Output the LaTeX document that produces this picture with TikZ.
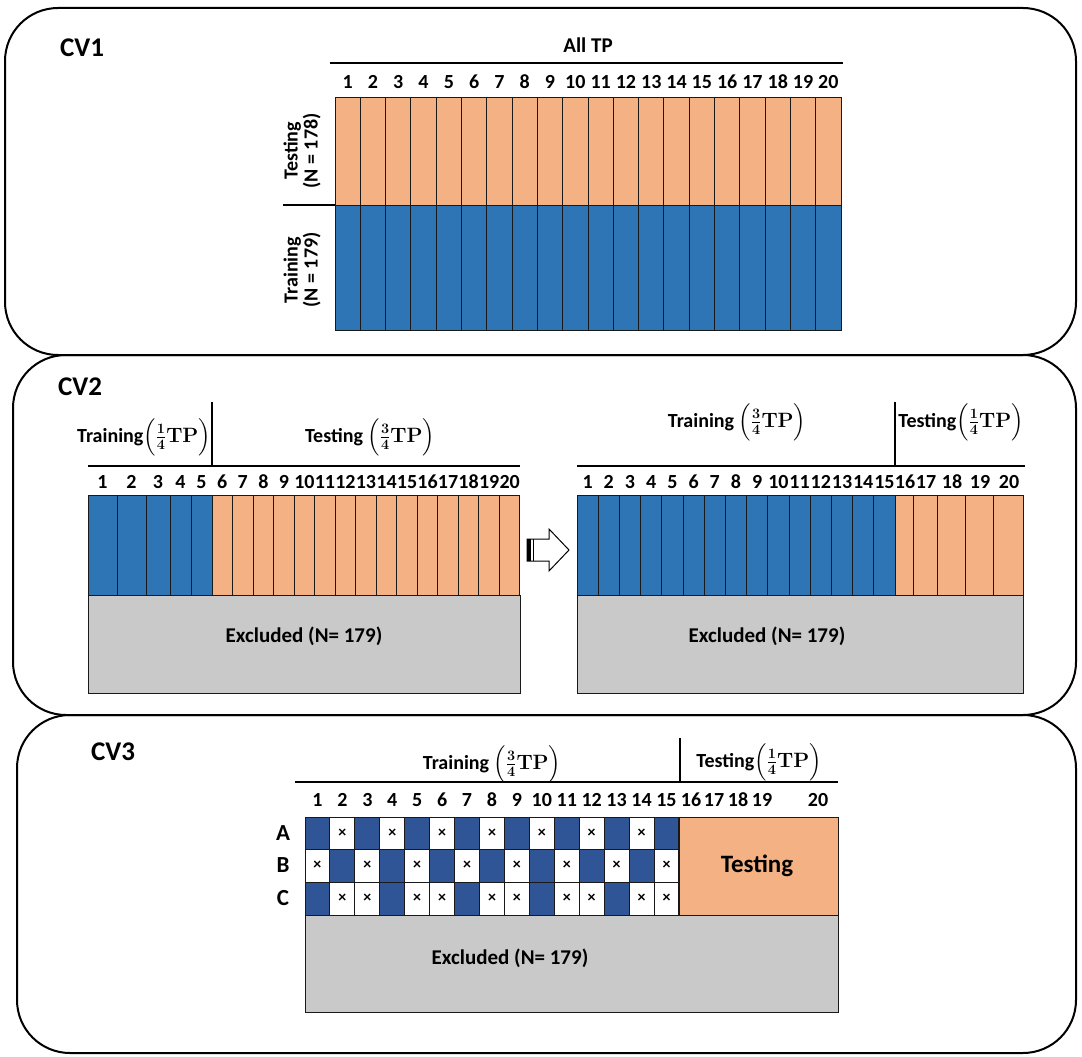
\documentclass[tikz,border=0pt]{standalone}
\usepackage{fontspec}
\setmainfont{Carlito}
\usepackage{amsmath}
\definecolor{sal}{HTML}{F4B183}
\definecolor{blA}{HTML}{2E75B6}
\definecolor{blB}{HTML}{2F5597}
\definecolor{gry}{HTML}{C9C9C9}
\newcommand{\fracTP}[2]{{\boldmath$\Bigl(\tfrac{#1}{#2}\mathbf{TP}\Bigr)$}}
\begin{document}
\begin{tikzpicture}[x=1pt,y=-1pt]
\tikzset{
  panel/.style={draw=black, line width=2pt, rounded corners=53pt},
  cellbox/.style={draw=black!90, line width=1pt},
  txt/.style={inner sep=0pt, font=\bfseries\fontsize{21}{21}\selectfont},
  hdr/.style={inner sep=0pt, font=\bfseries\fontsize{20}{20}\selectfont},
  num/.style={inner sep=0pt, font=\bfseries\fontsize{20}{20}\selectfont},
  title/.style={inner sep=0pt, font=\bfseries\fontsize{27}{27}\selectfont},
  xmark/.style={inner sep=0pt, font=\bfseries\fontsize{16}{16}\selectfont},
  rule/.style={draw=black, line width=1.3pt},
  vlab/.style={inner sep=0pt, rotate=90, align=center, font=\bfseries\fontsize{20}{20}\selectfont},
}
\useasboundingbox (0,0) rectangle (1082,1057);
% panels
\draw[panel] (5,8) rectangle (1076,355);
\draw[panel] (13,355) rectangle (1076,715);
\draw[panel] (17,715) rectangle (1076,1053);

% ---------------- CV1
\node[title] (cv1) at (82,48) {CV1};
\node[txt] (alltp) at (588,45) {All TP};
\coordinate (a1l) at (330,63); \coordinate (a1r) at (843,63);
\draw[rule] (a1l) -- (a1r);
\foreach \i in {1,...,20}{
  \pgfmathsetmacro{\xa}{335+(\i-1)*25.3}
  \pgfmathsetmacro{\xb}{\xa+25.3}
  \pgfmathsetmacro{\xc}{\xa+12.65}
  \draw[cellbox, fill=sal] (\xa,97) rectangle (\xb,205);
  \draw[cellbox, fill=blA] (\xa,205) rectangle (\xb,330);
  \node[num] (cvA-\i) at (\xc,82) {\i};
}
\coordinate (s1) at (283,205); \coordinate (s2) at (335,205);
\draw[rule] (s1) -- (s2);
\node[vlab] (ltest) at (302,151) {Testing\\(N = 178)};
\node[vlab] (ltrain) at (302,270) {Training\\(N = 179)};

% ---------------- CV2
\node[title] (cv2) at (80,387) {CV2};
% left block
\node[hdr] (l2a) at (144,437) {Training\fracTP{1}{4}};
\node[hdr] (l2b) at (370,437) {Testing \fracTP{3}{4}};
\coordinate (v1t) at (212,402); \coordinate (v1b) at (212,466);
\draw[rule] (v1t) -- (v1b);
\coordinate (h1l) at (88,466); \coordinate (h1r) at (520,466);
\draw[rule] (h1l) -- (h1r);
\foreach \a/\b/\n in {88/117/1,117/146/2,146/170/3,170/191/4,191/212/5}{
  \draw[cellbox, fill=blA] (\a,495) rectangle (\b,595);
  \node[num] (cvBl-\n) at ({(\a+\b)/2},482) {\n};
}
\foreach \i in {6,...,20}{
  \pgfmathsetmacro{\xa}{212+(\i-6)*20.53}
  \pgfmathsetmacro{\xb}{\xa+20.53}
  \pgfmathsetmacro{\xc}{\xa+10.27}
  \draw[cellbox, fill=sal] (\xa,495) rectangle (\xb,595);
  \node[num] (cvBl-\i) at (\xc,482) {\i};
}
\draw[cellbox, fill=gry] (88,595) rectangle (520,693);
\node[txt] (exl) at (304,636) {Excluded (N= 179)};
% arrow
\draw[line width=1pt, fill=white] (527,539) -- (549,539) -- (549,529) -- (569,550) -- (549,571) -- (549,561) -- (527,561) -- cycle;
\fill[black] (527,539) rectangle (531,561);
\draw[line width=1pt] (533.5,539) -- (533.5,561);
% right block
\node[hdr] (r2a) at (737,422) {Training \fracTP{3}{4}};
\node[hdr] (r2b) at (961,422) {Testing\fracTP{1}{4}};
\coordinate (v2t) at (895,402); \coordinate (v2b) at (895,466);
\draw[rule] (v2t) -- (v2b);
\coordinate (h2l) at (577,466); \coordinate (h2r) at (1025,466);
\draw[rule] (h2l) -- (h2r);
\foreach \i in {1,...,15}{
  \pgfmathsetmacro{\xa}{577+(\i-1)*21.2}
  \pgfmathsetmacro{\xb}{\xa+21.2}
  \pgfmathsetmacro{\xc}{\xa+10.6}
  \draw[cellbox, fill=blA] (\xa,495) rectangle (\xb,595);
  \node[num] (cvBr-\i) at (\xc,482) {\i};
}
\foreach \a/\b/\n in {895/913/16,913/937/17,937/965/18,965/993/19,993/1023/20}{
  \draw[cellbox, fill=sal] (\a,495) rectangle (\b,595);
  \node[num] (cvBr-\n) at ({(\a+\b)/2+1},482) {\n};
}
\draw[cellbox, fill=gry] (577,595) rectangle (1023,693);
\node[txt] (exr) at (767,636) {Excluded (N= 179)};

% ---------------- CV3
\node[title] (cv3) at (113,752) {CV3};
\node[hdr] (t3a) at (492,764) {Training \fracTP{3}{4}};
\node[hdr] (t3b) at (759,762) {Testing\fracTP{1}{4}};
\coordinate (v3t) at (680,738); \coordinate (v3b) at (680,782);
\draw[rule] (v3t) -- (v3b);
\coordinate (h3l) at (295,782); \coordinate (h3r) at (838,782);
\draw[rule] (h3l) -- (h3r);
\foreach \r/\ya/\yb in {A/817/849,B/849/882,C/882/915}{
  \node[txt, font=\bfseries\fontsize{23}{23}\selectfont] (row\r) at (283,{(\ya+\yb)/2}) {\r};
  \foreach \i in {1,...,15}{
    \pgfmathsetmacro{\xa}{305+(\i-1)*24.93}
    \pgfmathsetmacro{\xb}{\xa+24.93}
    \draw[cellbox, fill=white] (\xa,\ya) rectangle (\xb,\yb);
  }
}
\foreach \i in {1,...,15}{
  \pgfmathsetmacro{\xc}{305+(\i-1)*24.93+12.47}
  \node[num] (cvC-\i) at (\xc,800) {\i};
}
\foreach \n/\xx in {16/691,17/714,18/738,19/762,20/818}{
  \node[num] (cvC-\n) at (\xx,800) {\n};
}
% blue cells / crosses
\foreach \r/\ya/\yb/\blues/\crosses in {
  A/817/849/{1,3,5,7,9,11,13,15}/{2,4,6,8,10,12,14},
  B/849/882/{2,4,6,8,10,12,14}/{1,3,5,7,9,11,13,15},
  C/882/915/{1,4,7,10,13}/{2,3,5,6,8,9,11,12,14,15}}{
  \foreach \i in \blues{
    \pgfmathsetmacro{\xa}{305+(\i-1)*24.93}
    \pgfmathsetmacro{\xb}{\xa+24.93}
    \draw[cellbox, fill=blB] (\xa,\ya) rectangle (\xb,\yb);
  }
  \foreach \i in \crosses{
    \pgfmathsetmacro{\xc}{305+(\i-1)*24.93+12.47}
    \node[xmark] (x\r-\i) at (\xc,{(\ya+\yb)/2}) {×};
  }
}
\draw[cellbox, fill=sal] (679,817) rectangle (838,915);
\node[txt, font=\bfseries\fontsize{25}{25}\selectfont] (tst) at (757,866) {Testing};
\draw[cellbox, fill=gry] (305,915) rectangle (838,1012);
\node[txt] (ex3) at (510,958) {Excluded (N= 179)};
\end{tikzpicture}
\end{document}
